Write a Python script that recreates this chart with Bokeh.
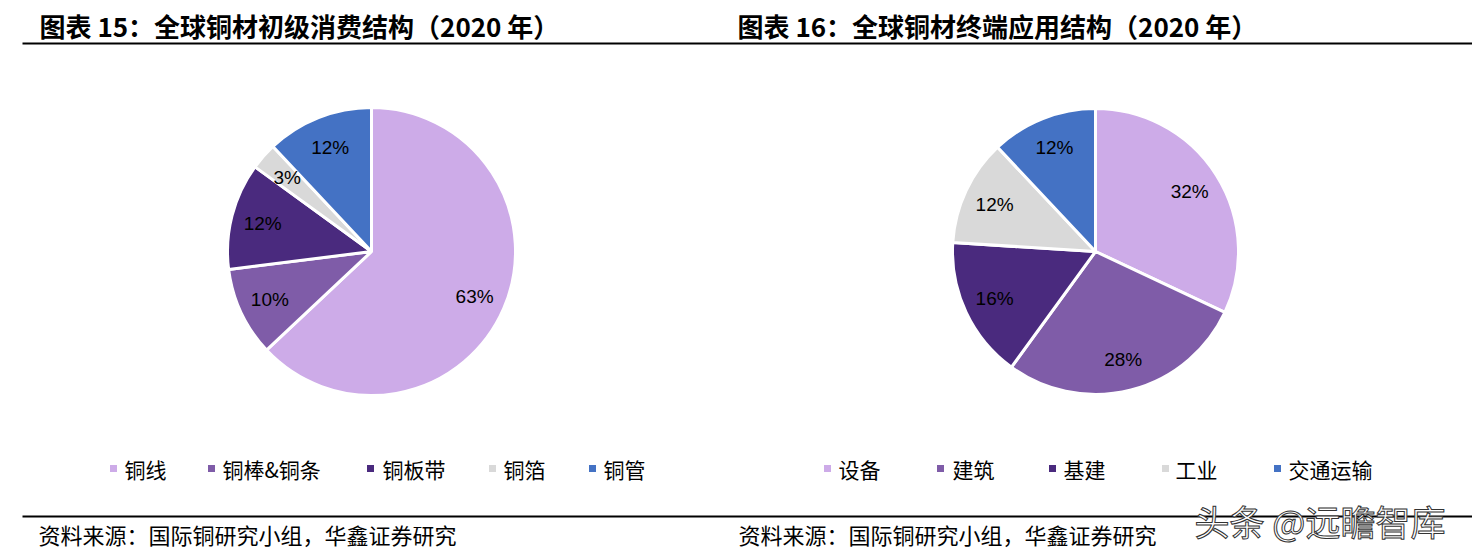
import numpy as np
from bokeh.plotting import figure
from bokeh.models import Range1d, ColumnDataSource
from bokeh.core.properties import value
from bokeh.embed import file_html
from bokeh.resources import INLINE

# ---------------- data ----------------
left_title = "图表 15：全球铜材初级消费结构（2020 年）"
left_categories = ["铜线", "铜棒&铜条", "铜板带", "铜箔", "铜管"]
left_values = [63, 10, 12, 3, 12]

right_title = "图表 16：全球铜材终端应用结构（2020 年）"
right_categories = ["设备", "建筑", "基建", "工业", "交通运输"]
right_values = [32, 28, 16, 12, 12]

slice_colors = ["#CDABE8", "#7F5CA8", "#4A2A7E", "#D9D9D9", "#4472C4"]

source_text = "资料来源：国际铜研究小组，华鑫证券研究"
watermark_text = "头条 @远瞻智库"

# ---------------- layout ----------------
W, H = 1472, 550
SCREEN_H = H


def sy(y):
    """screen y (px from top of window) -> data y"""
    return SCREEN_H - y


p = figure(width=W, height=H, output_backend="svg", toolbar_location=None,
           x_range=Range1d(0, W), y_range=Range1d(0, H),
           min_border=0, outline_line_color=None)
p.axis.visible = False
p.grid.visible = False
p.background_fill_color = "white"

CJK = value("Noto Sans CJK SC")
NUM = value("Liberation Sans")


def draw_pie(cx, cy, r, cats, vals, legend_sq_x, legend_txt_x):
    v = np.array(vals, dtype=float)
    frac = v / v.sum()
    cum = np.concatenate([[0], np.cumsum(frac)])
    start = np.pi / 2 - 2 * np.pi * cum[:-1]
    end = np.pi / 2 - 2 * np.pi * cum[1:]
    mid = (start + end) / 2
    src = ColumnDataSource(dict(start=start, end=end, color=slice_colors[:len(vals)],
                                lx=cx + 0.78 * r * np.cos(mid),
                                ly=sy(cy) + 0.78 * r * np.sin(mid),
                                lab=[f"{int(x)}%" for x in vals]))
    p.wedge(x=cx, y=sy(cy), radius=r, start_angle="start", end_angle="end",
            direction="clock", fill_color="color", line_color="white", line_width=3,
            source=src)
    p.text(x="lx", y="ly", text="lab", source=src, text_font=NUM, text_font_size="19px",
           text_align="center", text_baseline="middle", text_color="#000000")
    # legend
    lsrc = ColumnDataSource(dict(sx=legend_sq_x, tx=legend_txt_x,
                                 y=[sy(468)] * len(cats), cat=cats,
                                 color=slice_colors[:len(cats)]))
    p.rect(x="sx", y="y", width=7, height=7, fill_color="color", line_color=None, source=lsrc)
    p.text(x="tx", y="y", text="cat", source=lsrc, text_font=CJK, text_font_size="21px",
           text_align="left", text_baseline="middle", text_color="#000000")


draw_pie(371, 251, 144, left_categories, left_values,
         [113, 211, 370, 492, 592], [124, 222, 382, 503, 603])
draw_pie(1095, 251, 143, right_categories, right_values,
         [827, 940, 1052, 1165, 1277], [838, 952, 1063, 1175, 1288])

# titles
p.text(x=[39, 737], y=[sy(25), sy(25)], text=[left_title, right_title], text_font=CJK,
       text_font_size="26px", text_font_style="bold", text_align="left",
       text_baseline="middle", text_color="#000000")

# rules
p.segment(x0=[22, 22], y0=[sy(43), sy(516)], x1=[1472, 1472], y1=[sy(43), sy(516)],
          line_color="#000000", line_width=2)

# source notes
p.text(x=[38, 738], y=[sy(533), sy(533)], text=[source_text, source_text], text_font=CJK,
       text_font_size="22px", text_align="left", text_baseline="middle", text_color="#000000")

# watermark
p.text(x=[1194], y=[sy(520)], text=[watermark_text], text_font=CJK, text_font_size="35px",
       text_align="left", text_baseline="middle", text_color="#FFFFFF",
       text_outline_color="#333333")

open("out.html", "w").write(file_html(p, INLINE))
